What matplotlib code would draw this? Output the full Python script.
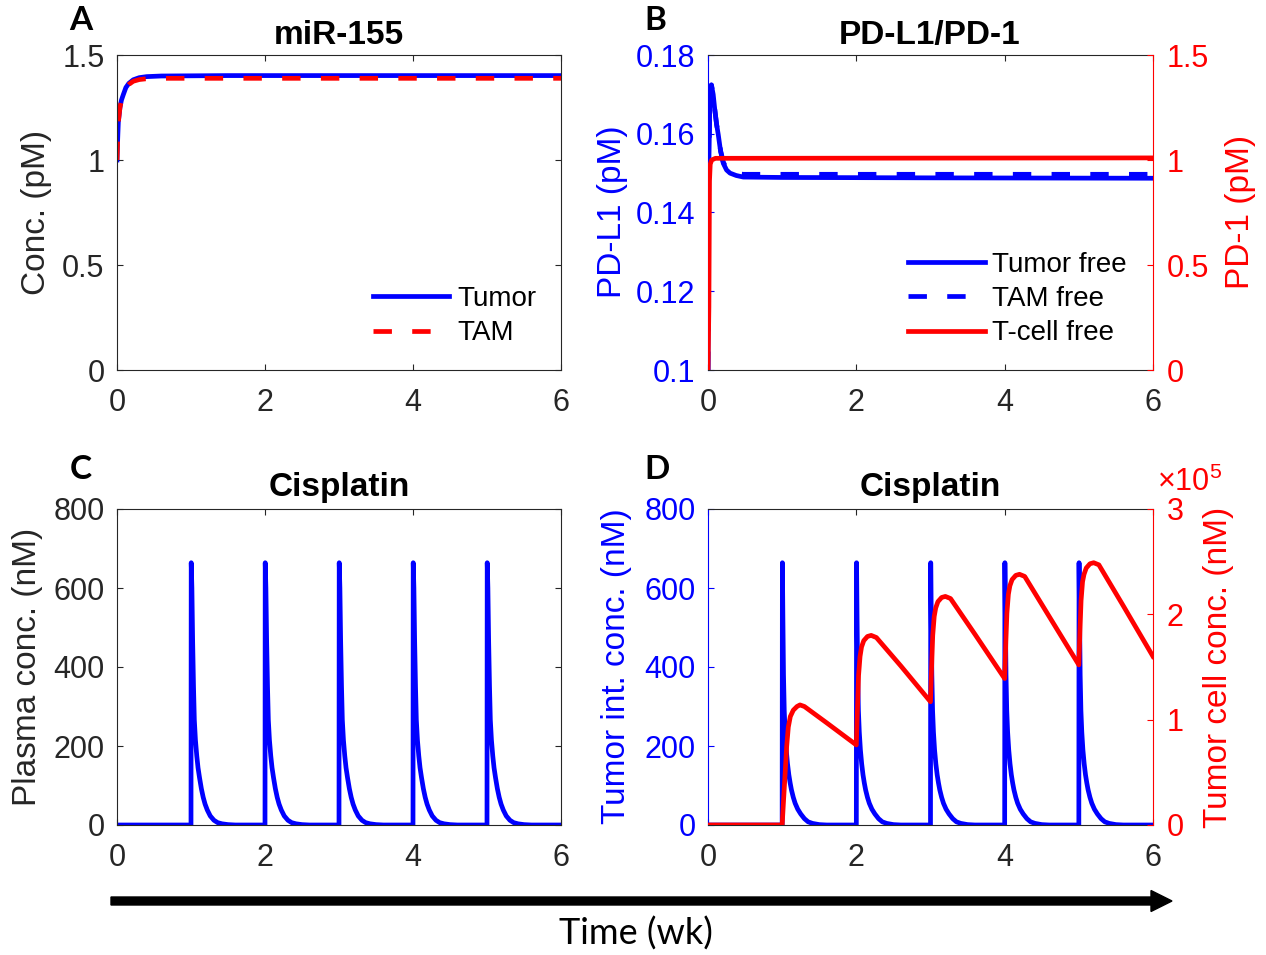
import matplotlib.pyplot as plt
import numpy as np
from matplotlib.patches import FancyArrow

# ---- data ----
# A: miR-155 (pM)
mir_wk = [0, 0.006, 0.018, 0.04, 0.06, 0.085, 0.12, 0.16, 0.22, 0.3, 0.4, 0.6, 1.5, 6]
mir_tumor = [1.0, 1.07, 1.18, 1.25, 1.285, 1.311, 1.345, 1.365, 1.382, 1.392, 1.397, 1.40, 1.402, 1.402]
mir_tam = [1.0, 1.07, 1.18, 1.25, 1.285, 1.311, 1.343, 1.360, 1.375, 1.383, 1.387, 1.389, 1.389, 1.389]

# B: PD-L1 (left axis) / PD-1 (right axis), pM
pdl1_wk = [0, 0.01, 0.025, 0.046, 0.07, 0.09, 0.115, 0.139, 0.17, 0.206, 0.25, 0.297,
           0.38, 0.476, 1, 3, 6]
pdl1_tumor = [0.1, 0.15, 0.168, 0.1724, 0.170, 0.1664, 0.1625, 0.1597, 0.1555, 0.1525,
              0.1508, 0.150, 0.1494, 0.149, 0.1489, 0.1488, 0.1487]
pdl1_tam = [0.1, 0.15, 0.168, 0.1724, 0.170, 0.1664, 0.1625, 0.1597, 0.1557, 0.1528,
            0.1512, 0.1504, 0.1499, 0.1497, 0.1497, 0.1497, 0.1497]
pd1_wk = [0, 0.012, 0.02, 0.03, 0.05, 0.1, 6]
pd1_tcell = [0, 0.3, 0.9, 0.98, 1.0, 1.008, 1.01]

# C/D: cisplatin doses (wk) and the shape of one dose response (nM)
dose_wk = [1, 2, 3, 4, 5]
plasma_dt = [0, 0.003, 0.012, 0.022, 0.034, 0.045, 0.06, 0.078, 0.095, 0.115, 0.14, 0.165,
             0.19, 0.22, 0.26, 0.31, 0.36, 0.42, 0.5, 0.6]
plasma_nm = [0, 664, 600, 468, 350, 266, 215, 175, 145, 120, 92, 70,
             53, 38, 23, 12, 6, 3, 1, 0]
tumint_dt = [0, 0.003, 0.01, 0.018, 0.028, 0.04, 0.055, 0.072, 0.09, 0.108, 0.125, 0.15,
             0.175, 0.21, 0.25, 0.3, 0.35, 0.41, 0.5, 0.6]
tumint_nm = [0, 664, 520, 380, 290, 235, 190, 155, 127, 106, 89, 70,
             55, 40, 28, 16, 8, 4, 1, 0]

# D: tumour cell cisplatin (x 1e5 nM)
cell_wk = [0, 1.0, 1.02, 1.04, 1.06, 1.083, 1.11, 1.15, 1.2, 1.24, 1.3, 1.6, 2.0,
           2.015, 2.03, 2.05, 2.07, 2.1, 2.15, 2.2, 2.27, 2.6, 3.0,
           3.015, 3.03, 3.05, 3.07, 3.1, 3.15, 3.2, 3.27, 3.6, 4.0,
           4.015, 4.03, 4.05, 4.07, 4.1, 4.15, 4.2, 4.27, 4.6, 5.0,
           5.015, 5.03, 5.05, 5.07, 5.1, 5.15, 5.2, 5.27, 5.6, 6.0]
cell_e5 = [0, 0, 0.25, 0.49, 0.74, 0.93, 1.03, 1.09, 1.125, 1.14, 1.125, 0.97, 0.76,
           1.10, 1.42, 1.60, 1.69, 1.75, 1.79, 1.80, 1.78, 1.51, 1.17,
           1.50, 1.80, 1.98, 2.06, 2.12, 2.16, 2.17, 2.15, 1.81, 1.39,
           1.72, 2.01, 2.19, 2.27, 2.33, 2.37, 2.38, 2.36, 1.98, 1.52,
           1.84, 2.13, 2.31, 2.38, 2.44, 2.48, 2.49, 2.47, 2.08, 1.60]


def dosing(dt, val):
    t, v = [0], [0]
    for d in dose_wk:
        t += [d + x for x in dt]
        v += list(val)
    return t + [6], v + [0]


plt.rcParams['font.family'] = ['Liberation Sans', 'DejaVu Sans']
plt.rcParams['mathtext.fontset'] = 'custom'
plt.rcParams['mathtext.rm'] = 'Liberation Sans'

W, H = 1266, 955
GRAY = '#262626'
BLUE, RED = (0, 0, 1), (1, 0, 0)
LW = 3.4
DASH = (3.9, 4.3)
TICK = 22
LAB = 24


def rect(l, t, r, b):
    return [l / W, 1 - b / H, (r - l) / W, (b - t) / H]


def base(ax):
    ax.set_xlim(0, 6)
    ax.set_xticks([0, 2, 4, 6])
    ax.tick_params(direction='in', length=4, width=0.8, labelsize=TICK,
                   top=True, right=True, color=GRAY, labelcolor=GRAY)
    ax.tick_params(axis='x', pad=13)
    ax.tick_params(axis='y', pad=9)
    for s in ax.spines.values():
        s.set_color(GRAY)
        s.set_linewidth(0.8)


def make_twin(ax):
    ax2 = ax.twinx()
    ax.tick_params(axis='y', right=False, left=True, colors=BLUE)
    ax.spines['left'].set_color(BLUE)
    ax.spines['right'].set_visible(False)
    ax2.tick_params(direction='in', length=4, width=0.8, labelsize=TICK, colors=RED, pad=10)
    for k in ('left', 'top', 'bottom'):
        ax2.spines[k].set_visible(False)
    ax2.spines['right'].set_color(RED)
    ax2.spines['right'].set_linewidth(0.8)
    return ax2


def vlabel(x, y, s, color=GRAY):
    fig.text(x / W, 1 - y / H, s, rotation=90, ha='center', va='center',
             fontsize=LAB, color=color)


def title(x, y, s):
    fig.text(x / W, 1 - y / H, s, ha='center', va='baseline',
             fontsize=LAB, fontweight='bold', color='black')


def letter(x, y, s):
    fig.text(x / W, 1 - y / H, s, ha='left', va='baseline', fontsize=24,
             fontweight='bold', family=['Lato', 'DejaVu Sans'], color='black')


fig = plt.figure(figsize=(W / 100, H / 100), dpi=100)

# ---- A ----
axA = fig.add_axes(rect(117, 55, 561, 370))
base(axA)
axA.plot(mir_wk, mir_tumor, color=BLUE, lw=LW, label='Tumor')
axA.plot(mir_wk, mir_tam, color=RED, lw=LW, dashes=DASH, label='TAM')
axA.set_ylim(0, 1.5)
axA.set_yticks([0, 0.5, 1, 1.5])
axA.set_yticklabels(['0', '0.5', '1', '1.5'])
axA.legend(loc='lower right', bbox_to_anchor=(0.945, 0.075), frameon=False, fontsize=20,
           handlelength=2.75, handletextpad=0.3, labelspacing=0.3,
           borderaxespad=0, borderpad=0)
vlabel(37, 212, 'Conc. (pM)')
title(339, 44, 'miR-155')
letter(69, 30, 'A')

# ---- B ----
axB = fig.add_axes(rect(708, 55, 1153, 370))
base(axB)
bR = make_twin(axB)
l1, = axB.plot(pdl1_wk, pdl1_tumor, color=BLUE, lw=LW, label='Tumor free')
l2, = axB.plot(pdl1_wk, pdl1_tam, color=BLUE, lw=LW, dashes=DASH, label='TAM free')
l3, = bR.plot(pd1_wk, pd1_tcell, color=RED, lw=LW, label='T-cell free')
axB.set_ylim(0.1, 0.18)
axB.set_yticks([0.1, 0.12, 0.14, 0.16, 0.18])
axB.set_yticklabels(['0.1', '0.12', '0.14', '0.16', '0.18'])
bR.set_ylim(0, 1.5)
bR.set_yticks([0, 0.5, 1, 1.5])
bR.set_yticklabels(['0', '0.5', '1', '1.5'])
bR.legend(handles=[l1, l2, l3], loc='lower right', bbox_to_anchor=(0.94, 0.075),
          frameon=False, fontsize=20, handlelength=2.75, handletextpad=0.25,
          labelspacing=0.3, borderaxespad=0, borderpad=0)
vlabel(612, 212, 'PD-L1 (pM)', BLUE)
vlabel(1240, 212, 'PD-1 (pM)', RED)
title(930, 44, 'PD-L1/PD-1')
letter(644, 30, 'B')

# ---- C ----
axC = fig.add_axes(rect(117, 509, 561, 825))
base(axC)
tc, vc = dosing(plasma_dt, plasma_nm)
axC.plot(tc, vc, color=BLUE, lw=LW)
axC.set_ylim(0, 800)
axC.set_yticks([0, 200, 400, 600, 800])
vlabel(28, 667, 'Plasma conc. (nM)')
title(339, 496, 'Cisplatin')
letter(70, 479, 'C')

# ---- D ----
axD = fig.add_axes(rect(708, 509, 1153, 825))
base(axD)
dR = make_twin(axD)
td, vd = dosing(tumint_dt, tumint_nm)
axD.plot(td, vd, color=BLUE, lw=LW)
dR.plot(cell_wk, cell_e5, color=RED, lw=LW)
axD.set_ylim(0, 800)
axD.set_yticks([0, 200, 400, 600, 800])
dR.set_ylim(0, 3)
dR.set_yticks([0, 1, 2, 3])
dR.set_yticklabels(['0', '1', '2', '3'])
fig.text(1157 / W, 1 - 491 / H, r'$\times10^{5}$', color=RED, fontsize=22,
         ha='left', va='baseline')
vlabel(617, 666, 'Tumor int. conc. (nM)', BLUE)
vlabel(1218, 667, 'Tumor cell conc. (nM)', RED)
title(930, 496, 'Cisplatin')
letter(644, 479, 'D')

# ---- shared time arrow ----
fig.patches.append(FancyArrow(111 / W, 1 - 901 / H, (1172 - 111) / W, 0,
                              width=8 / H, head_width=21 / H, head_length=21 / W,
                              length_includes_head=True, color='black',
                              transform=fig.transFigure, figure=fig))
fig.text(636 / W, 1 - 945 / H, 'Time (wk)', ha='center', va='baseline', fontsize=26,
         family=['Lato', 'DejaVu Sans'], color='black')

fig.savefig('out.png', dpi=100)
